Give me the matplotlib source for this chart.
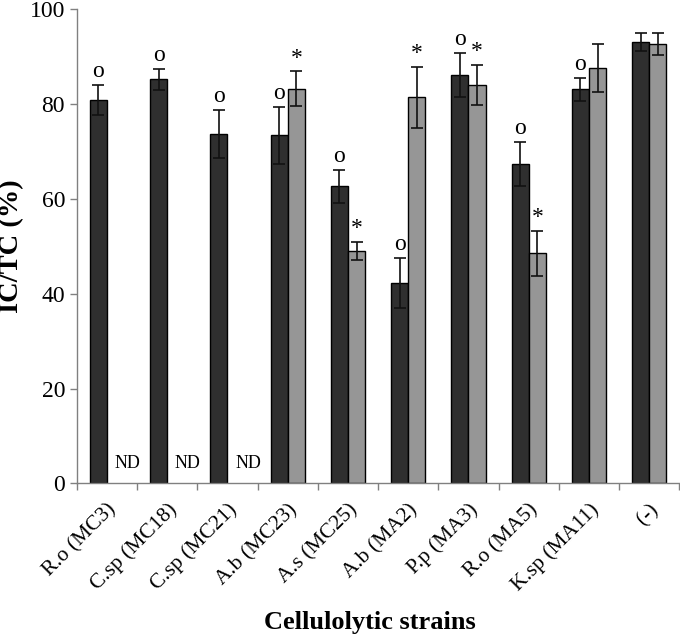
import numpy as np
import matplotlib
matplotlib.use("Agg")
import matplotlib.pyplot as plt

plt.rcParams['font.family'] = ['Liberation Serif', 'DejaVu Serif']

strains = ['R.o (MC3)', 'C.sp (MC18)', 'C.sp (MC21)', 'A.b (MC23)', 'A.s (MC25)',
           'A.b (MA2)', 'P.p (MA3)', 'R.o (MA5)', 'K.sp (MA11)', '(-)']
# dark series / grey series (None = not determined)
dark = [80.9, 85.2, 73.7, 73.4, 62.7, 42.3, 86.1, 67.4, 83.1, 93.0]
dark_err = [3.2, 2.3, 5.0, 6.0, 3.5, 5.3, 4.7, 4.7, 2.4, 1.9]
grey = [None, None, None, 83.2, 49.0, 81.4, 84.0, 48.5, 87.6, 92.7]
grey_err = [None, None, None, 3.7, 1.9, 6.5, 4.2, 4.8, 5.0, 2.3]
dark_mark = ['o', 'o', 'o', 'o', 'o', 'o', 'o', 'o', 'o', '']
grey_mark = ['', '', '', '*', '*', '*', '*', '*', '', '']

fig = plt.figure(figsize=(6.8, 6.36), dpi=100)
ax = fig.add_axes([0.113, 0.2398, 0.886, 0.7456])

x = np.arange(len(strains))
w = 0.285

ax.bar(x - w / 2, dark, w, color='#2f2f2f', edgecolor='black', linewidth=1.0, zorder=2)
ax.errorbar(x - w / 2, dark, yerr=dark_err, fmt='none', ecolor='#111111',
            elinewidth=1.2, capsize=4.5, capthick=1.2, zorder=3)

gi = [i for i in range(len(grey)) if grey[i] is not None]
gv = [grey[i] for i in gi]
ge = [grey_err[i] for i in gi]
ax.bar(x[gi] + w / 2, gv, w, color='#969696', edgecolor='black', linewidth=1.0, zorder=2)
ax.errorbar(x[gi] + w / 2, gv, yerr=ge, fmt='none', ecolor='#111111',
            elinewidth=1.2, capsize=4.5, capthick=1.2, zorder=3)

for i in range(len(strains)):
    if dark_mark[i]:
        ax.text(x[i] - w / 2, dark[i] + dark_err[i] + 0.6, dark_mark[i],
                ha='center', va='bottom', fontsize=17)
    if grey_mark[i]:
        ax.text(x[i] + w / 2, grey[i] + grey_err[i] + 0.6, grey_mark[i],
                ha='center', va='bottom', fontsize=17)
    if grey[i] is None:
        ax.text(x[i] + w / 2 + 0.2, 2.5, 'ND', ha='center', va='bottom', fontsize=13)

ax.set_xlim(-0.5, len(strains) - 0.5)
ax.set_ylim(0, 100)
ax.set_yticks([0, 20, 40, 60, 80, 100])
ax.tick_params(axis='y', labelsize=17, direction='out', length=5, color='#808080', width=1)

ax.set_xticks(x)
ax.set_xticklabels(strains, rotation=45, ha='right', rotation_mode='anchor', fontsize=15.5)
ax.tick_params(axis='x', which='major', length=0, pad=12)
ax.set_xticks(np.arange(len(strains) + 1) - 0.5, minor=True)
ax.tick_params(axis='x', which='minor', direction='out', length=5, color='#808080', width=1)

for s in ['top', 'right']:
    ax.spines[s].set_visible(False)
for s in ['left', 'bottom']:
    ax.spines[s].set_color('#808080')
    ax.spines[s].set_linewidth(1)

ax.set_ylabel('IC/TC (%)', fontsize=20.5, fontweight='bold', labelpad=4)
ax.set_xlabel('Cellulolytic strains', fontsize=19, fontweight='bold', labelpad=11)
ax.xaxis.label.set_x(0.487)

fig.savefig('out.png', dpi=100)
